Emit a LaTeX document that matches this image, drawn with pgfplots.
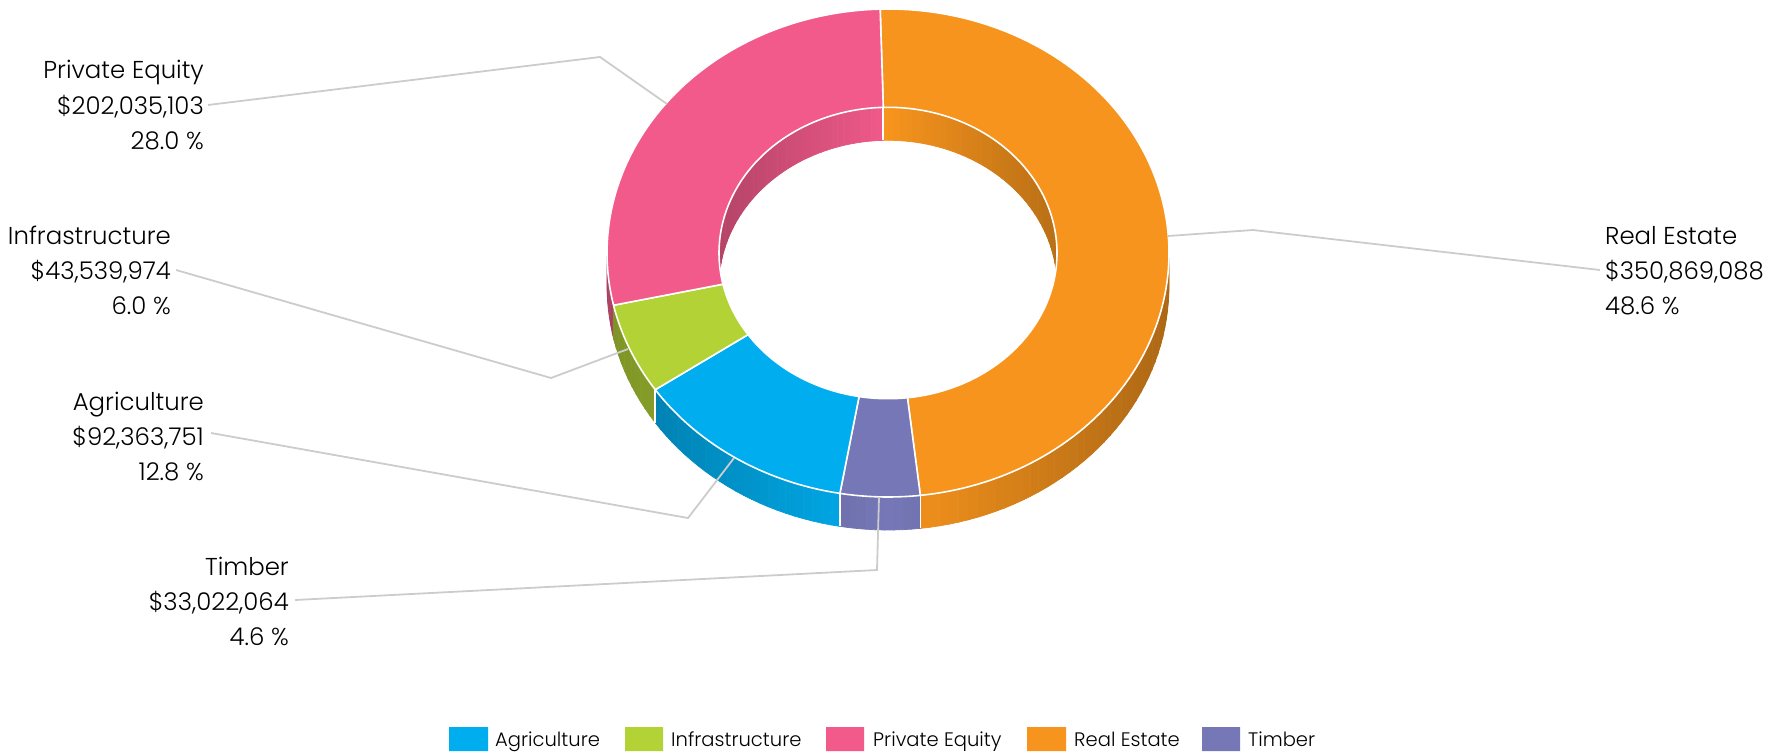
\documentclass[border=0pt]{standalone}
\usepackage{pgfplots}
\pgfplotsset{compat=1.18}
\usepackage{fontspec}
\setmainfont{Poppins Light}
\definecolor{cAG}{HTML}{00AEEF}
\definecolor{cIN}{HTML}{B2D235}
\definecolor{cPE}{HTML}{F15A8A}
\definecolor{cRE}{HTML}{F7941D}
\definecolor{cTI}{HTML}{7577B7}
\definecolor{lead}{HTML}{CCCCCC}
% values in millions of dollars
\def\vRE{350.869088}\def\vTI{33.022064}\def\vAG{92.363751}\def\vIN{43.539974}\def\vPE{202.035103}
\def\cx{888}\def\cy{253}\def\orx{281}\def\ory{244}\def\irx{169}\def\iry{145.7}\def\dep{33}
\pgfmathsetmacro\sc{360/(\vRE+\vTI+\vAG+\vIN+\vPE)}
\pgfmathsetmacro\aRE{-1.6}
\pgfmathsetmacro\aTI{\aRE+\vRE*\sc}
\pgfmathsetmacro\aAG{\aTI+\vTI*\sc}
\pgfmathsetmacro\aIN{\aAG+\vAG*\sc}
\pgfmathsetmacro\aPE{\aIN+\vIN*\sc}
\pgfmathsetmacro\aEND{\aPE+\vPE*\sc}
\newcommand\ellpt[4]{\pgfmathsetmacro\xx{\cx+#1*sin(#4)}\pgfmathsetmacro\yy{\cy+#3-#2*cos(#4)}\edef\pres{(\xx,\yy)}}
\newcommand\wall[6]{%
 \pgfmathtruncatemacro\nn{max(1,ceil(abs(#4-#3)/2))}%
 \foreach \ii in {1,...,\nn}{%
  \pgfmathsetmacro\tA{#3+(#4-#3)/\nn*(\ii-1)}%
  \pgfmathsetmacro\tB{#3+(#4-#3)/\nn*\ii}%
  \pgfmathsetmacro\pct{100*(1-#6*abs(sin((\tA+\tB)/2)))}%
  \ellpt{#1}{#2}{0}{\tA}\let\PA\pres
  \ellpt{#1}{#2}{0}{\tB}\let\PB\pres
  \ellpt{#1}{#2}{\dep}{\tB}\let\PC\pres
  \ellpt{#1}{#2}{\dep}{\tA}\let\PD\pres
  \edef\tmp{\noexpand\addplot[fill=#5!\pct!black,draw=#5!\pct!black,line width=0.7bp] coordinates {\PA\PB\PC\PD\PA};}\tmp
 }}
\newcommand\edgeline[3]{%
  \ellpt{#1}{#2}{0}{#3}\let\PA\pres
  \ellpt{#1}{#2}{\dep}{#3}\let\PB\pres
  \edef\tmp{\noexpand\addplot[white,line width=1.6bp] coordinates {\PA\PB};}\tmp}
\newcommand\arcadd[4]{%
 \pgfmathtruncatemacro\nn{max(1,ceil(abs(#4-#3)/1.5))}%
 \foreach \ii in {0,...,\nn}{%
  \pgfmathsetmacro\tA{#3+(#4-#3)/\nn*\ii}%
  \ellpt{#1}{#2}{0}{\tA}\xdef\coords{\coords\pres}}}
\newcommand\face[3]{%
 \gdef\coords{}\arcadd{\orx}{\ory}{#1}{#2}\arcadd{\irx}{\iry}{#2}{#1}%
 \ellpt{\orx}{\ory}{0}{#1}%
 \edef\tmp{\noexpand\addplot[fill=#3,draw=white,line width=1.6bp,line join=round] coordinates {\coords\pres};}\tmp}
\begin{document}
\begin{tikzpicture}
\begin{axis}[name=main,scale only axis,width=1778bp,height=752bp,xmin=0,xmax=1778,ymin=0,ymax=752,y dir=reverse,hide axis,clip=false]
% inner walls
\wall{\irx}{\iry}{\aRE}{90}{cRE}{0.25}
\wall{\irx}{\iry}{-90}{\aRE}{cPE}{0.25}
\edgeline{\irx}{\iry}{\aRE}
% outer walls
\wall{\orx}{\ory}{257}{270}{cPE}{0.3}
\wall{\orx}{\ory}{90}{\aTI}{cRE}{0.3}
\wall{\orx}{\ory}{\aTI}{\aAG}{cTI}{0.3}
\wall{\orx}{\ory}{\aAG}{\aIN}{cAG}{0.3}
\wall{\orx}{\ory}{\aIN}{\aPE}{cIN}{0.3}
\edgeline{\orx}{\ory}{\aTI}
\edgeline{\orx}{\ory}{\aAG}
\edgeline{\orx}{\ory}{\aIN}
% top faces
\face{\aRE}{\aTI}{cRE}
\face{\aTI}{\aAG}{cTI}
\face{\aAG}{\aIN}{cAG}
\face{\aIN}{\aPE}{cIN}
\face{\aPE}{\aEND}{cPE}
% leader lines
\addplot[lead,line width=1.8bp] coordinates {(208,105)(600,57)(667,104)};
\addplot[lead,line width=1.8bp] coordinates {(176,270)(551,378)(628,349)};
\addplot[lead,line width=1.8bp] coordinates {(211,433)(688,518)(734,458)};
\addplot[lead,line width=1.8bp] coordinates {(295,600)(877,570)(879,497)};
\addplot[lead,line width=1.8bp] coordinates {(1168,236)(1253,230)(1600,270)};
% legend swatches
\addplot[fill=cAG,draw=none] coordinates {(449,727)(488,727)(488,751)(449,751)(449,727)};
\addplot[fill=cIN,draw=none] coordinates {(625,727)(663,727)(663,751)(625,751)(625,727)};
\addplot[fill=cPE,draw=none] coordinates {(826,727)(864,727)(864,751)(826,751)(826,727)};
\addplot[fill=cRE,draw=none] coordinates {(1027,727)(1066,727)(1066,751)(1027,751)(1027,727)};
\addplot[fill=cTI,draw=none] coordinates {(1202,727)(1240,727)(1240,751)(1202,751)(1202,727)};
% labels
\tikzset{lab/.style={font=\fontsize{24.5}{28}\selectfont,inner sep=0pt,text=black},leg/.style={font=\fontsize{19.6}{23}\selectfont,inner sep=0pt,text=black,anchor=base west}}
\node[lab,anchor=base east] at (axis cs:204,79) {Private Equity};
\node[lab,anchor=base east] at (axis cs:204,114) {\$202,035,103};
\node[lab,anchor=base east] at (axis cs:204,149) {28.0 \%};
\node[lab,anchor=base east] at (axis cs:171,244) {Infrastructure};
\node[lab,anchor=base east] at (axis cs:171,279) {\$43,539,974};
\node[lab,anchor=base east] at (axis cs:171,314) {6.0 \%};
\node[lab,anchor=base east] at (axis cs:204,410) {Agriculture};
\node[lab,anchor=base east] at (axis cs:204,445) {\$92,363,751};
\node[lab,anchor=base east] at (axis cs:204,480) {12.8 \%};
\node[lab,anchor=base east] at (axis cs:289,575) {Timber};
\node[lab,anchor=base east] at (axis cs:289,610) {\$33,022,064};
\node[lab,anchor=base east] at (axis cs:289,645) {4.6 \%};
\node[lab,anchor=base west] at (axis cs:1605,244) {Real Estate};
\node[lab,anchor=base west] at (axis cs:1605,279) {\$350,869,088};
\node[lab,anchor=base west] at (axis cs:1605,314) {48.6 \%};
\node[leg] at (axis cs:495,746) {Agriculture};
\node[leg] at (axis cs:671,746) {Infrastructure};
\node[leg] at (axis cs:873,746) {Private Equity};
\node[leg] at (axis cs:1074,746) {Real Estate};
\node[leg] at (axis cs:1248,746) {Timber};
\coordinate (bbA) at (axis cs:0,752);
\coordinate (bbB) at (axis cs:1778,0);
\end{axis}
\pgfresetboundingbox
\path[use as bounding box] (bbA) rectangle (bbB);
\end{tikzpicture}
\end{document}
